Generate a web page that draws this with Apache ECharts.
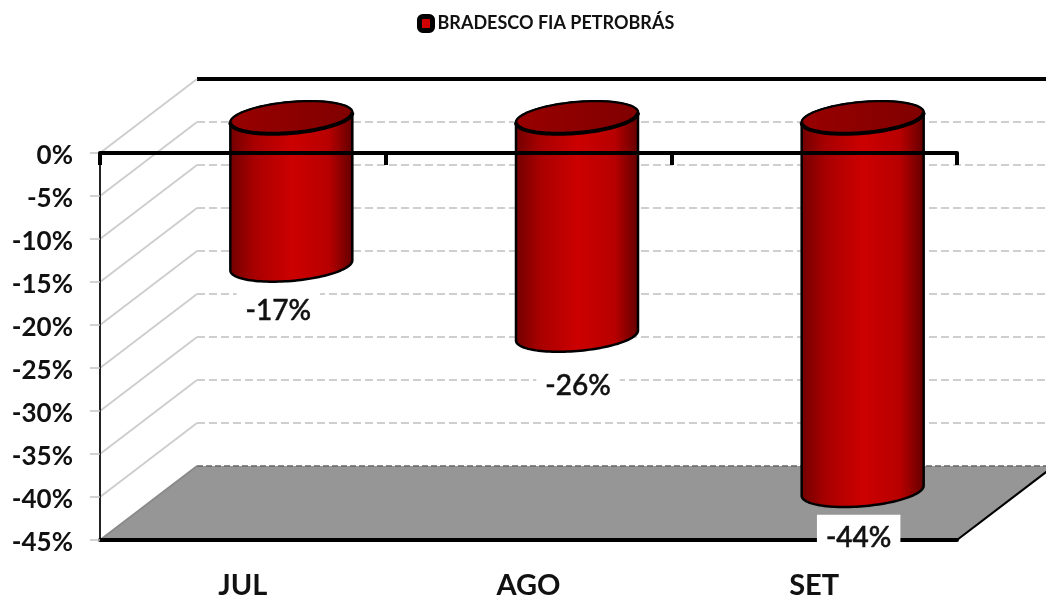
<!DOCTYPE html>
<html>
<head>
<meta charset="utf-8">
<style>html,body{margin:0;padding:0;background:#fff}#c{width:1046px;height:596px}</style>
<script src="https://cdn.jsdelivr.net/npm/echarts@6/dist/echarts.min.js"></script>
</head>
<body>
<div id="c"></div>
<script>
// ---- data ----
var categories = ['JUL', 'AGO', 'SET'];
var seriesName = 'BRADESCO FIA PETROBRÁS';
var values = [-17.2, -25.35, -43.4];
var valueLabels = ['-17%', '-26%', '-44%'];
var yTicks = [0, -5, -10, -15, -20, -25, -30, -35, -40, -45];
// ---- layout of hand-placed labels (px relative to the bar's bottom centre) ----
var labelDX = [-13, 1, -4];
var labelDY = [46, 50, 47];
// ---- 3D style ----
var depthX = 97, depthY = -74;
var cylOffX = 48.5, cylOffY = -35.5;
var rx = 61, tiltY = -5, ry = 15.5;
var FONT = 'Lato, "Noto Sans", sans-serif';

function ellipsePoints(cx, cy, from, to) {
  var pts = [], n = 60;
  for (var i = 0; i <= n; i++) {
    var t = from + (to - from) * i / n;
    pts.push([cx + rx * Math.cos(t), cy + tiltY * Math.cos(t) + ry * Math.sin(t)]);
  }
  return pts;
}

function renderWall(params, api) {
  var v = api.value(0);
  var front = api.coord([0, v]);
  var x0 = params.coordSys.x, x1 = params.coordSys.x + params.coordSys.width;
  var y = front[1];
  var isTop = v === yTicks[0], isBottom = v === yTicks[yTicks.length - 1];
  var children = [];
  if (isBottom) {
    children.push({
      type: 'polygon',
      shape: { points: [[x0, y], [x1, y], [x1 + depthX, y + depthY], [x0 + depthX, y + depthY]] },
      style: { fill: '#969696' }
    });
    children.push({
      type: 'line',
      shape: { x1: x1, y1: y, x2: x1 + depthX, y2: y + depthY },
      style: { stroke: '#000', lineWidth: 2.2 }
    });
    children.push({
      type: 'line',
      shape: { x1: x0 + depthX, y1: y + depthY, x2: x1 + depthX, y2: y + depthY },
      style: { stroke: '#666', lineWidth: 1.5, lineDash: [6, 3] }
    });
  } else if (isTop) {
    children.push({
      type: 'line',
      shape: { x1: x0 + depthX, y1: y + depthY, x2: x1 + depthX, y2: y + depthY },
      style: { stroke: '#000', lineWidth: 4 }
    });
  } else {
    children.push({
      type: 'line',
      shape: { x1: x0 + depthX, y1: y + depthY, x2: x1 + depthX, y2: y + depthY },
      style: { stroke: '#cfcfcf', lineWidth: 2, lineDash: [8, 4] }
    });
  }
  children.push({
    type: 'line',
    shape: { x1: x0, y1: y, x2: x0 + depthX, y2: y + depthY },
    style: { stroke: isBottom ? '#8a8a8a' : '#cdcdcd', lineWidth: 1.8 }
  });
  return { type: 'group', children: children };
}

function renderCylinder(params, api) {
  var i = api.value(0), v = api.value(1);
  var top = api.coord([i, 0]), bot = api.coord([i, v]);
  var cx = top[0] + cylOffX, ty = top[1] + cylOffY, by = bot[1] + cylOffY;
  var pts = ellipsePoints(cx, ty, 0, Math.PI);
  var body = ellipsePoints(cx, by, Math.PI, 0).concat(ellipsePoints(cx, ty, 0, -Math.PI));
  return {
    type: 'group',
    children: [
      {
        type: 'polygon',
        shape: { points: body },
        style: {
          fill: { type: 'linear', x: 0, y: 0, x2: 1, y2: 0, colorStops: [
            { offset: 0, color: '#700000' }, { offset: 0.2, color: '#a80000' },
            { offset: 0.5, color: '#cc0000' }, { offset: 0.8, color: '#b80000' },
            { offset: 1, color: '#600000' } ] },
          stroke: '#000', lineWidth: 2.5, lineJoin: 'round'
        }
      },
      {
        type: 'polygon',
        shape: { points: ellipsePoints(cx, ty, 0, 2 * Math.PI) },
        style: {
          fill: { type: 'linear', x: 0, y: 0, x2: 1, y2: 0, colorStops: [
            { offset: 0, color: '#980000' }, { offset: 0.5, color: '#8c0000' }, { offset: 1, color: '#800000' } ] },
          stroke: '#000', lineWidth: 2
        }
      },
      {
        type: 'polyline',
        shape: { points: pts },
        style: { fill: null, stroke: '#000', lineWidth: 4 }
      },
      {
        type: 'text',
        z2: 10,
        style: {
          x: cx + labelDX[i], y: by + labelDY[i],
          text: valueLabels[i], align: 'center', verticalAlign: 'middle',
          font: '500 28px ' + FONT, fill: '#111',
          stroke: '#111', lineWidth: 0.5,
          backgroundColor: '#fff', padding: [16, 9, 2, 9]
        }
      }
    ]
  };
}

var chart = echarts.init(document.getElementById('c'));
chart.setOption({
  animation: false,
  backgroundColor: '#fff',
  legend: {
    top: 14, left: 417, padding: 0,
    data: [{ name: seriesName, icon: 'roundRect' }],
    itemWidth: 13, itemHeight: 14,
    itemStyle: { color: '#d00000', borderColor: '#000', borderWidth: 5 },
    textStyle: { fontFamily: FONT, fontWeight: 'bold', fontSize: 18, color: '#111' }
  },
  grid: { left: 100, top: 153, width: 857, height: 387, outerBoundsMode: 'none' },
  xAxis: [
    {
      type: 'category', data: categories, position: 'top', z: 6,
      axisLine: { lineStyle: { color: '#000', width: 4 } },
      axisTick: { show: true, inside: true, length: 12, lineStyle: { color: '#000', width: 4 } },
      axisLabel: { show: false }
    },
    {
      type: 'category', data: categories, position: 'bottom', z: 2,
      axisLine: { lineStyle: { color: '#000', width: 4 } },
      axisTick: { show: false },
      axisLabel: { fontFamily: FONT, fontWeight: 'bold', fontSize: 29, color: '#111', margin: 31 }
    }
  ],
  yAxis: {
    type: 'value', min: -45, max: 0, interval: 5, z: 2,
    axisLine: { show: true, lineStyle: { color: '#222', width: 2 } },
    axisTick: { show: true, length: 10, lineStyle: { color: '#c4c4c4', width: 1.5 } },
    splitLine: { show: false },
    axisLabel: {
      fontFamily: FONT, fontWeight: 'bold', fontSize: 26, color: '#111', margin: 27,
      verticalAlign: 'top', padding: [-10, 0, 0, 0],
      formatter: function (v) { return v + '%'; }
    }
  },
  series: [
    {
      type: 'custom', name: 'walls', z: 1, xAxisIndex: 1, yAxisIndex: 0, silent: true,
      renderItem: renderWall, clip: false,
      data: yTicks.map(function (t) { return [t]; }),
      encode: { y: 0 }
    },
    {
      type: 'custom', name: seriesName, z: 3, xAxisIndex: 1, yAxisIndex: 0,
      renderItem: renderCylinder, clip: false,
      data: categories.map(function (c, i) { return [i, values[i]]; }),
      encode: { x: 0, y: 1 }
    }
  ]
});
</script>
</body>
</html>
